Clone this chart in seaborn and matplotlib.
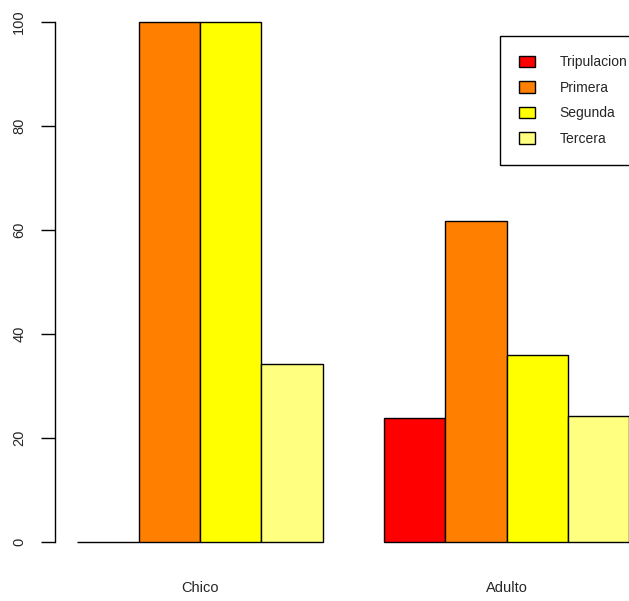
import matplotlib
matplotlib.use("Agg")
import matplotlib.pyplot as plt
import seaborn as sns
import pandas as pd

edades = ["Chico", "Adulto"]
clases = ["Tripulacion", "Primera", "Segunda", "Tercera"]
chico = [0.0, 100.0, 100.0, 34.2]
adulto = [23.9, 61.8, 36.0, 24.2]
colores = ["#FF0000", "#FF8000", "#FFFF00", "#FFFF80"]
yticks = [0, 20, 40, 60, 80, 100]

rows = []
for e, vals in zip(edades, [chico, adulto]):
    for c, v in zip(clases, vals):
        rows.append({"edad": e, "clase": c, "pct": v})
df = pd.DataFrame(rows)

sns.set_style("white")
plt.rcParams["font.family"] = ["Liberation Sans", "DejaVu Sans"]

W, H = 629, 601
fig = plt.figure(figsize=(W / 100, H / 100), dpi=100)
left_px, right_px = 55.4, 651.3
top_px, bot_px = 1.2, 562.8
ax = fig.add_axes([left_px / W, 1 - bot_px / H, (right_px - left_px) / W, (bot_px - top_px) / H])

sns.barplot(data=df, x="edad", y="pct", hue="clase", order=edades, hue_order=clases,
            palette=colores, saturation=1, edgecolor="black", linewidth=1,
            width=0.8, gap=0, errorbar=None, ax=ax)

ax.set_xlim(-0.472, 1.472)
ax.set_ylim(-4, 104)
ax.set_xlabel("")
ax.set_ylabel("")
for s in ["top", "right", "bottom"]:
    ax.spines[s].set_visible(False)
ax.spines["left"].set_bounds(0, 100)
ax.spines["left"].set_linewidth(1)
ax.spines["left"].set_color("black")
ax.set_yticks(yticks)
ax.set_yticklabels([str(v) for v in yticks], rotation=90, va="center", fontsize=10.5)
ax.tick_params(axis="y", direction="out", length=10, width=1, pad=11, color="black", left=True)
ax.tick_params(axis="x", length=0, pad=13, labelsize=10.5)

handles, labels = ax.get_legend_handles_labels()
if ax.get_legend() is not None:
    ax.get_legend().remove()
leg = fig.legend(handles, labels, loc="upper left",
                 bbox_to_anchor=(500 / W, 1 - 36 / H), bbox_transform=fig.transFigure,
                 borderaxespad=0, fontsize=10, frameon=True, fancybox=False,
                 handlelength=1.1, handleheight=0.9, handletextpad=1.8,
                 labelspacing=0.82, borderpad=1.4)
leg.get_frame().set_edgecolor("black")
leg.get_frame().set_linewidth(1)
leg.get_frame().set_alpha(1)

fig.savefig("out.png", dpi=100)
